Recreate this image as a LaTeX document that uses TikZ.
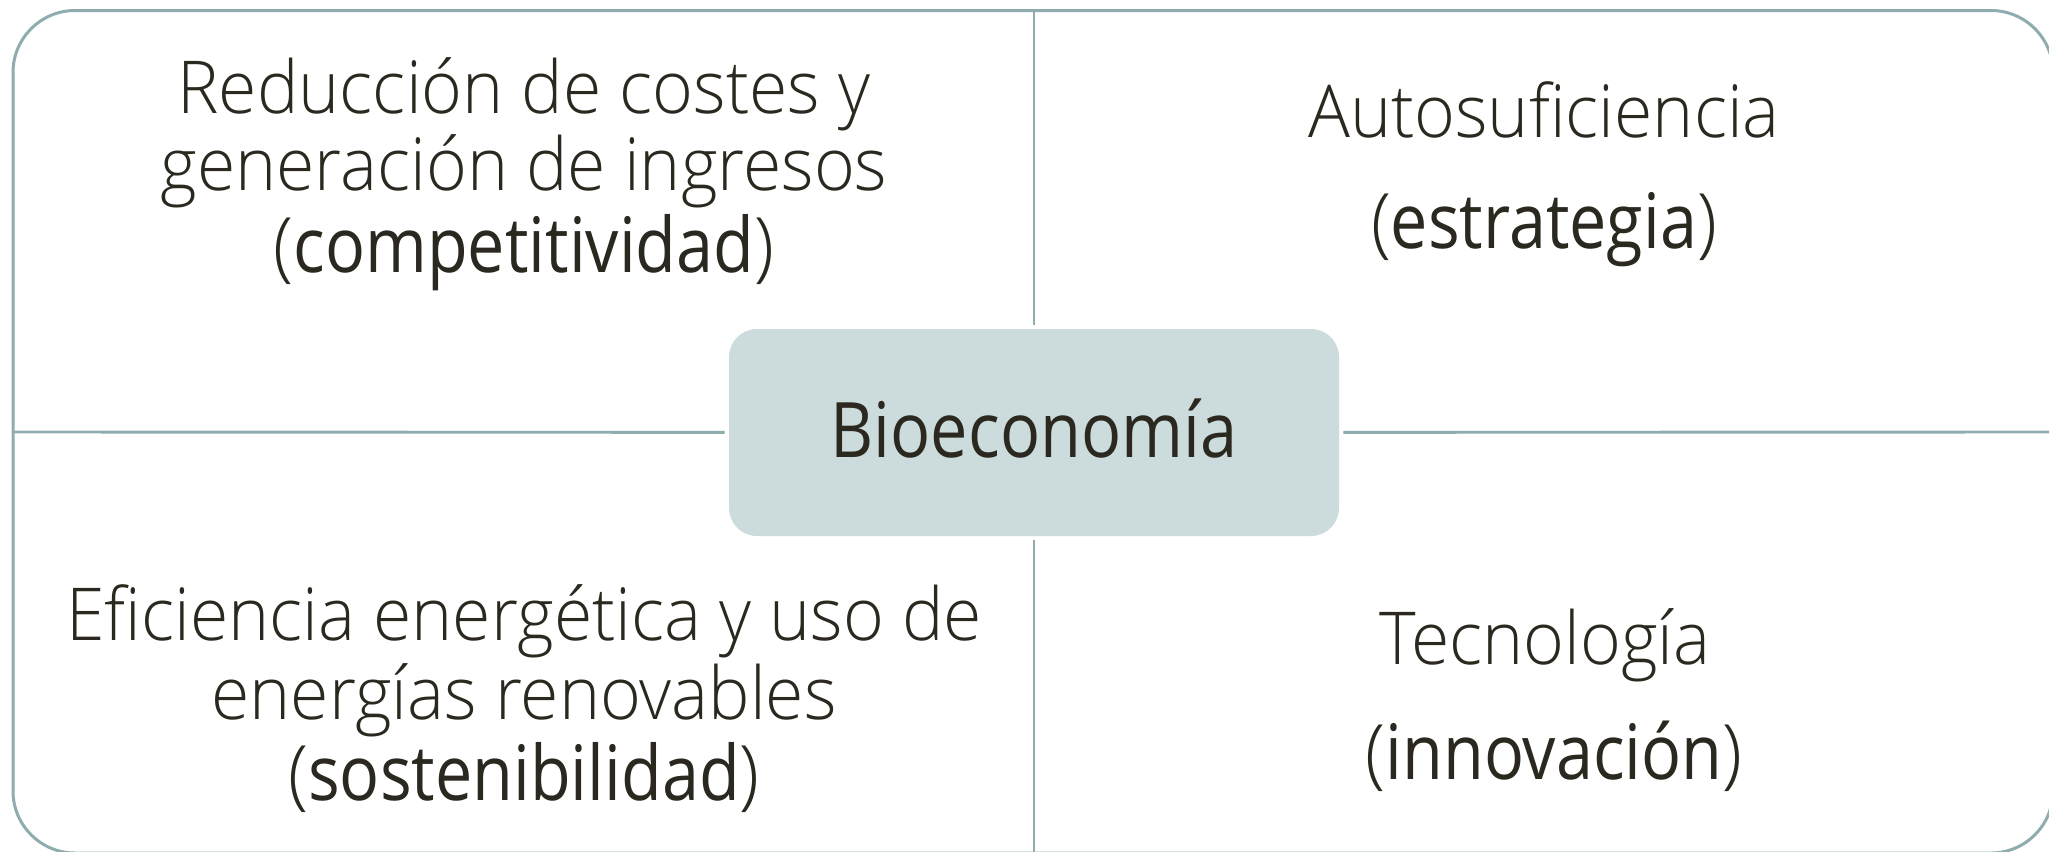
\documentclass[tikz,border=0pt]{standalone}
\usepackage{fontspec}
\newfontfamily\lightf{Open Sans Light}[FakeStretch=0.955]
\newfontfamily\regf{Open Sans}[FakeStretch=0.87]
\definecolor{txtcol}{RGB}{43,41,31}
\definecolor{linecol}{RGB}{143,173,175}
\definecolor{boxcol}{RGB}{204,220,221}
\tikzset{
  lighttxt/.style={anchor=base, inner sep=0pt, text=txtcol, font=\lightf\fontsize{36.5}{40}\selectfont},
  frameline/.style={draw=linecol, line width=1.5pt},
  divline/.style={draw=linecol, line width=1.45pt},
  centerbox/.style={fill=boxcol, draw=none, rounded corners=14pt, minimum width=305pt, minimum height=103.5pt, inner sep=0pt},
}
\newcommand{\parword}[1]{{\lightf\fontsize{38.2}{42}\selectfont(}{\regf\fontsize{38.2}{42}\selectfont #1}{\lightf\fontsize{38.2}{42}\selectfont)}}
\begin{document}
\begin{tikzpicture}[x=0.5pt,y=-0.5pt]
\useasboundingbox (0,0) rectangle (2049,851);
\fill[white] (0,0) rectangle (2049,851);
% frame
\draw[frameline, rounded corners=31pt] (13,10.5) rectangle (2053,853);
% centre box
\node[centerbox] (bio) at (1034,432.5) {};
\node[anchor=base, inner sep=0pt, text=txtcol, font=\regf\fontsize{38.3}{40}\selectfont] (biotxt) at (1034,457) {Bioeconomía};
% connector end points on the frame
\coordinate (L) at (13,432);
\coordinate (R) at (2053,432);
\coordinate (T) at (1034,10.5);
\coordinate (B) at (1034,853);
\draw[divline, shorten >=2pt] (L) -- (bio);
\draw[divline, shorten >=2pt] (R) -- (bio);
\draw[divline, shorten >=2pt] (T) -- (bio);
\draw[divline, shorten >=2pt] (B) -- (bio);
% quadrant 1
\node[lighttxt] (q1a) at (524,113) {Reducción de costes y};
\node[lighttxt] (q1b) at (524,190) {generación de ingresos};
\node[lighttxt] (q1c) at (524,272) {\parword{competitividad}};
% quadrant 2
\node[lighttxt] (q2a) at (1544,137) {Autosuficiencia};
\node[lighttxt] (q2b) at (1544,248) {\parword{estrategia}};
% quadrant 3
\node[lighttxt] (q3a) at (524,640) {Eficiencia energética y uso de};
\node[lighttxt] (q3b) at (524,719) {energías renovables};
\node[lighttxt] (q3c) at (524,800) {\parword{sostenibilidad}};
% quadrant 4
\node[lighttxt] (q4a) at (1545,664) {Tecnología};
\node[lighttxt] (q4b) at (1554,779) {\parword{innovación}};
\end{tikzpicture}
\end{document}
